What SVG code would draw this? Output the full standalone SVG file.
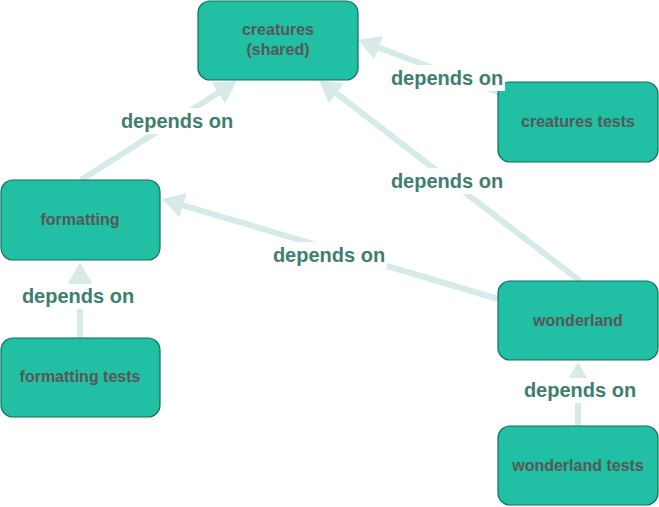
<svg xmlns="http://www.w3.org/2000/svg" width="659" height="507" viewBox="0 0 659 507">
<style>
.node rect{fill:#21bfa3;stroke:#0f6e5c;stroke-width:1.2}
.node text{font-family:"Liberation Sans",Arial,sans-serif;font-weight:bold;font-size:16px;fill:#575757;text-anchor:middle}
.edge{stroke:#d7eaea;stroke-width:6;fill:none;marker-end:url(#ah)}
.lbl rect{fill:#ffffff}
.lbl text{font-family:"Liberation Sans",Arial,sans-serif;font-weight:bold;font-size:20px;fill:#3e7e6f;text-anchor:middle}
</style>
<defs>
<marker id="ah" markerUnits="userSpaceOnUse" markerWidth="22" markerHeight="25" refX="0" refY="12.5" orient="auto" overflow="visible">
<path d="M0,0 L22,12.5 L0,25 z" fill="#d7eaea"/>
</marker>
</defs>
<rect width="659" height="507" fill="#ffffff"/>
<g id="connectors">
<path class="edge" d="M81,180 L218.4,92.8"/>
<path class="edge" d="M500,93 L378.6,47.7"/>
<path class="edge" d="M580,281 L336.4,93.4"/>
<path class="edge" d="M498,299 L183.1,205.3"/>
<path class="edge" d="M80,338 L80,284"/>
<path class="edge" d="M578,426 L578,384"/>
</g>
<g id="node-creatures" class="node">
<rect x="198" y="1" width="160" height="79" rx="12"/>
<text x="278" y="35">creatures</text>
<text x="278" y="55">(shared)</text>
</g>
<g id="node-creatures-tests" class="node">
<rect x="498" y="82" width="160" height="80" rx="12"/>
<text x="578" y="127">creatures tests</text>
</g>
<g id="node-formatting" class="node">
<rect x="1" y="180" width="159" height="80" rx="12"/>
<text x="80" y="225">formatting</text>
</g>
<g id="node-formatting-tests" class="node">
<rect x="1" y="338" width="159" height="79" rx="12"/>
<text x="80" y="382">formatting tests</text>
</g>
<g id="node-wonderland" class="node">
<rect x="498" y="281" width="160" height="79" rx="12"/>
<text x="578" y="326">wonderland</text>
</g>
<g id="node-wonderland-tests" class="node">
<rect x="498" y="426" width="160" height="79" rx="12"/>
<text x="578" y="471">wonderland tests</text>
</g>
<g id="edge-labels">
<g class="lbl"><rect x="119" y="108" width="116" height="26"/><text x="177" y="128">depends on</text></g>
<g class="lbl"><rect x="389" y="65" width="116" height="26"/><text x="447" y="85">depends on</text></g>
<g class="lbl"><rect x="389" y="168" width="116" height="26"/><text x="447" y="188">depends on</text></g>
<g class="lbl"><rect x="271" y="242" width="116" height="26"/><text x="329" y="262">depends on</text></g>
<g class="lbl"><rect x="20" y="284" width="116" height="25"/><text x="78" y="303">depends on</text></g>
<g class="lbl"><rect x="522" y="378" width="116" height="25"/><text x="580" y="397">depends on</text></g>
</g>
</svg>
